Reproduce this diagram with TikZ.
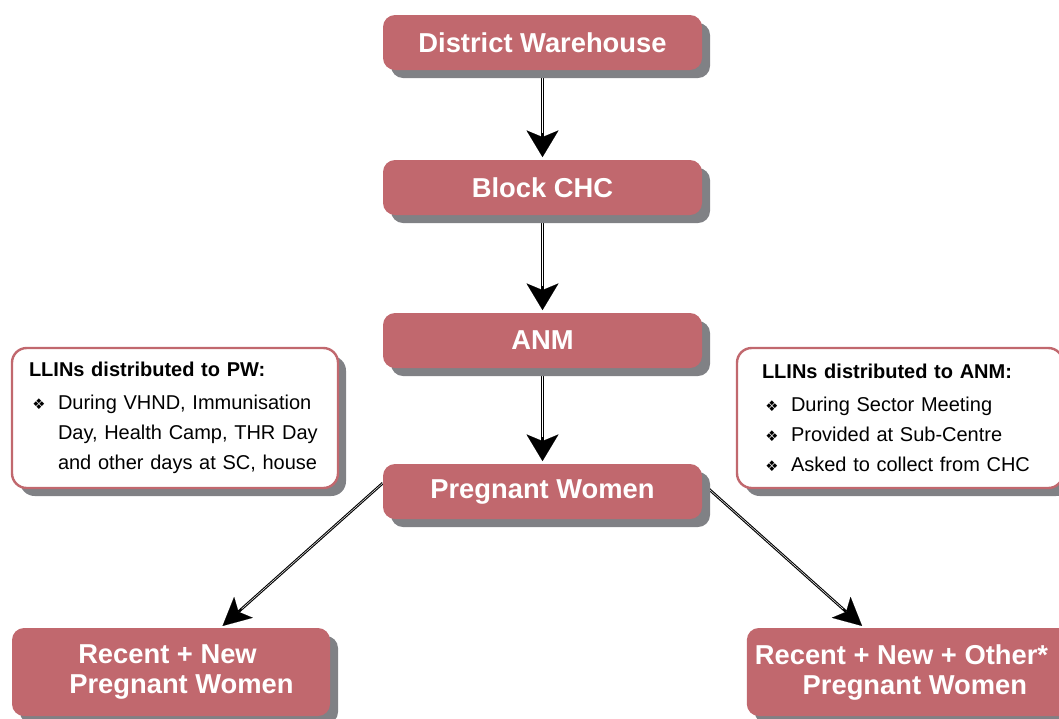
\documentclass[tikz,border=0pt]{standalone}
\usepackage{xcolor}
\usepackage{fontspec}
\setmainfont{Liberation Sans}
\newfontfamily\symfont{DejaVu Sans}
\usetikzlibrary{arrows.meta,shadows,backgrounds}

\definecolor{stagerose}{RGB}{193,104,110}
\definecolor{shadowgrey}{RGB}{128,129,133}

\newcommand{\dia}{{\symfont\fontsize{11}{11}\selectfont ❖}}
\newcommand{\llitem}[1]{\makebox[21.75pt][l]{\hspace*{2.5pt}\dia}#1}
\newcommand{\llcont}{\hspace*{21.75pt}}

\begin{document}
\begin{tikzpicture}[x=0.75pt,y=0.75pt,yscale=-1,xscale=1,
  stage/.style={fill=stagerose, rounded corners=9pt, text=white, inner sep=0pt,
    font=\fontsize{20.5}{22.5}\selectfont\bfseries, align=center,
    drop shadow={shadow xshift=6pt, shadow yshift=-6pt, fill=shadowgrey, opacity=1}},
  mainstage/.style={stage, minimum width=239.25pt, minimum height=41.25pt},
  endstage/.style={stage, minimum width=238.5pt, minimum height=66pt},
  infobox/.style={draw=stagerose, line width=1.8pt, fill=white, rounded corners=11pt,
    align=left, font=\fontsize{15}{22.5}\selectfont, minimum height=105pt,
    drop shadow={shadow xshift=6pt, shadow yshift=-6pt, fill=shadowgrey, opacity=1}},
  flow/.style={draw=black, line width=2.6pt, shorten >=2pt,
    -{Stealth[length=20pt,width=24pt,inset=5pt,line width=0.1pt]},
    postaction={draw=white, line width=1pt, -, shorten >=20pt}},
  slant/.style={draw=black, line width=2pt, shorten >=2pt,
    -{Stealth[length=21pt,width=21pt,inset=5pt,line width=0.1pt]},
    postaction={draw=white, line width=0.35pt, -, shorten >=21pt}},
]
%set diagram to the 1059 x 718 frame
\clip (0,0) rectangle (1059,718);

%Rounded Rect: chain of stages
\node [mainstage] (dw) at (542.5,42.5) {District Warehouse};
\node [mainstage] (chc) at (542.5,187.5) {Block CHC};
\node [mainstage] (anm) at (542.5,340.5) {ANM};
\node [mainstage] (pw) at (542.5,491.5) {Pregnant Women};

%Rounded Rect: end groups
\node [endstage] (rnpw) at (171,672) {\hspace*{15.75pt}Recent + New\hspace*{21pt}\\\hspace*{15.75pt}Pregnant Women};
\node [endstage, minimum width=250pt] (rnopw) at (913.5,672) {Recent + New + Other*\hspace*{18pt}\\\hspace*{2pt}Pregnant Women};

%Rounded Rect: notes
\node [infobox, text width=219pt, inner xsep=12.75pt] (pwnote) at (175,418) {\textbf{LLINs distributed to PW:}\\[2pt]
  \llitem{During VHND, Immunisation}\\
  \llcont Day, Health Camp, THR Day\\
  \llcont and other days at SC, house};
\node [infobox, text width=207pt, inner xsep=18.75pt] (anmnote) at (900,418) {\textbf{LLINs distributed to ANM:}\\[2pt]
  \llitem{During Sector Meeting}\\
  \llitem{Provided at Sub-Centre}\\
  \llitem{Asked to collect from CHC}};

%Arrows
\begin{scope}[on background layer]
\draw [flow] (dw) -- (chc);
\draw [flow] (chc) -- (anm);
\draw [flow] (anm) -- (pw);
\draw [slant] (pw.177) -- (rnpw);
\draw [slant] (pw.3) -- (rnopw);
\end{scope}

\end{tikzpicture}
\end{document}
